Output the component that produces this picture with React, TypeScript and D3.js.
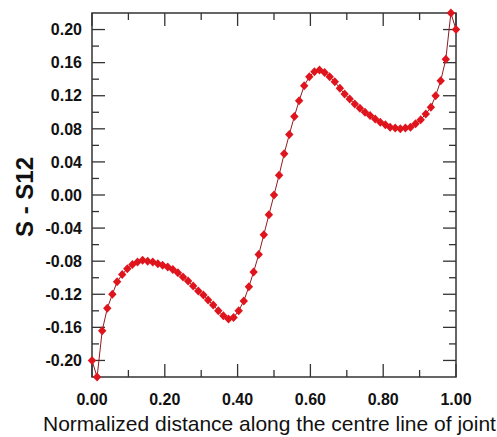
import * as d3 from 'd3';

// Normalized distance along the centre line of joint
const distance = [
  0.000, 0.014, 0.028, 0.042, 0.056, 0.069, 0.083, 0.097, 0.111, 0.125,
  0.139, 0.153, 0.167, 0.181, 0.194, 0.208, 0.222, 0.236, 0.250, 0.264,
  0.278, 0.292, 0.306, 0.319, 0.333, 0.347, 0.361, 0.375, 0.389, 0.403,
  0.417, 0.431, 0.444, 0.458, 0.472, 0.486, 0.500, 0.514, 0.528, 0.542,
  0.556, 0.569, 0.583, 0.597, 0.611, 0.625, 0.639, 0.653, 0.667, 0.681,
  0.694, 0.708, 0.722, 0.736, 0.750, 0.764, 0.778, 0.792, 0.806, 0.819,
  0.833, 0.847, 0.861, 0.875, 0.889, 0.903, 0.917, 0.931, 0.944, 0.958,
  0.972, 0.986, 1.000,
];

// S - S12
const stress = [
  -0.200, -0.220, -0.164, -0.137, -0.120, -0.105, -0.096, -0.089, -0.084, -0.081,
  -0.079, -0.080, -0.081, -0.083, -0.085, -0.087, -0.090, -0.094, -0.099, -0.104,
  -0.110, -0.116, -0.121, -0.127, -0.133, -0.140, -0.146, -0.150, -0.148, -0.140,
  -0.128, -0.111, -0.093, -0.072, -0.048, -0.024, 0.000, 0.024, 0.050, 0.073,
  0.095, 0.114, 0.132, 0.143, 0.149, 0.151, 0.148, 0.143, 0.137, 0.129,
  0.122, 0.116, 0.110, 0.105, 0.100, 0.096, 0.092, 0.088, 0.085, 0.082,
  0.081, 0.080, 0.081, 0.082, 0.086, 0.091, 0.098, 0.106, 0.120, 0.138,
  0.164, 0.220, 0.200,
];

const xMajor = [0, 0.2, 0.4, 0.6, 0.8, 1.0];
const xMinor = [0.1, 0.3, 0.5, 0.7, 0.9];
const yMajor = [-0.2, -0.16, -0.12, -0.08, -0.04, 0, 0.04, 0.08, 0.12, 0.16, 0.2];
const yMinor = [-0.18, -0.14, -0.1, -0.06, -0.02, 0.02, 0.06, 0.1, 0.14, 0.18];

const W = 497;
const H = 437;
const PLOT = { left: 92, right: 456, top: 13, bottom: 377 };
const FONT = '"Liberation Sans", Arial, Helvetica, sans-serif';
const AXIS = '#333';
const MAJOR = 13;
const MINOR = 7;

export default function App() {
  const x = d3.scaleLinear().domain([0, 1]).range([PLOT.left, PLOT.right]);
  const y = d3.scaleLinear().domain([-0.22, 0.22]).range([PLOT.bottom, PLOT.top]);

  const pts = distance.map((d, i) => [d, stress[i]] as [number, number]);
  const line = d3.line<[number, number]>()
    .x((d) => x(d[0]))
    .y((d) => y(d[1]));

  const diamond = (cx: number, cy: number) =>
    `M${cx},${cy - 4.5}L${cx + 4.2},${cy}L${cx},${cy + 4.5}L${cx - 4.2},${cy}Z`;

  return (
    <svg
      width={W}
      height={H}
      style={{ position: 'absolute', left: 0, top: 0, background: '#fff' }}
      fontFamily={FONT}
    >
      {/* ticks, inward on all four sides */}
      <g stroke={AXIS} strokeWidth={1.3}>
        {xMajor.map((t) => (
          <g key={'xM' + t}>
            <line x1={x(t)} x2={x(t)} y1={PLOT.bottom} y2={PLOT.bottom - MAJOR} />
            <line x1={x(t)} x2={x(t)} y1={PLOT.top} y2={PLOT.top + MAJOR} />
          </g>
        ))}
        {xMinor.map((t) => (
          <g key={'xm' + t}>
            <line x1={x(t)} x2={x(t)} y1={PLOT.bottom} y2={PLOT.bottom - MINOR} />
            <line x1={x(t)} x2={x(t)} y1={PLOT.top} y2={PLOT.top + MINOR} />
          </g>
        ))}
        {yMajor.map((t) => (
          <g key={'yM' + t}>
            <line x1={PLOT.left} x2={PLOT.left + MAJOR} y1={y(t)} y2={y(t)} />
            <line x1={PLOT.right} x2={PLOT.right - MAJOR} y1={y(t)} y2={y(t)} />
          </g>
        ))}
        {yMinor.map((t) => (
          <g key={'ym' + t}>
            <line x1={PLOT.left} x2={PLOT.left + MINOR} y1={y(t)} y2={y(t)} />
            <line x1={PLOT.right} x2={PLOT.right - MINOR} y1={y(t)} y2={y(t)} />
          </g>
        ))}
      </g>

      {/* frame */}
      <rect
        x={PLOT.left}
        y={PLOT.top}
        width={PLOT.right - PLOT.left}
        height={PLOT.bottom - PLOT.top}
        fill="none"
        stroke={AXIS}
        strokeWidth={1.5}
      />

      {/* tick labels */}
      <g fontSize={16} fontWeight="bold" fill="#111">
        {yMajor.map((t) => (
          <text key={'yl' + t} x={82} y={y(t)} dy="0.36em" textAnchor="end">
            {d3.format('.2f')(t).replace('−', '-')}
          </text>
        ))}
        {xMajor.map((t) => (
          <text key={'xl' + t} x={x(t)} y={405} textAnchor="middle">
            {d3.format('.2f')(t)}
          </text>
        ))}
      </g>

      {/* axis titles */}
      <text x={43} y={431} fontSize={21} fill="#111">
        Normalized distance along the centre line of joint
      </text>
      <text
        transform={`translate(33,197) rotate(-90)`}
        textAnchor="middle"
        fontSize={24}
        fontWeight="bold"
        fill="#111"
      >
        S - S12
      </text>

      {/* series */}
      <path d={line(pts) ?? ''} fill="none" stroke="#8e1c22" strokeWidth={1} />
      <g fill="#e0141c">
        {pts.map((d, i) => (
          <path key={i} d={diamond(x(d[0]), y(d[1]))} />
        ))}
      </g>
    </svg>
  );
}
